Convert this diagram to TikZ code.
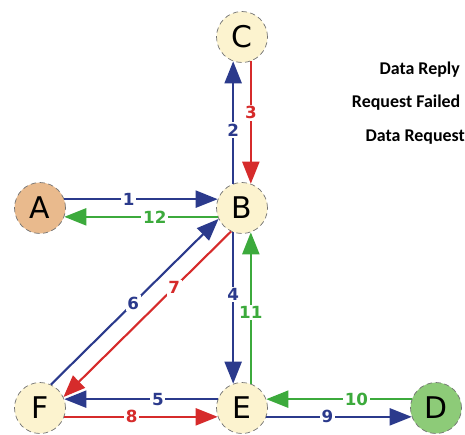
\documentclass[tikz,border=0pt]{standalone}
\usepackage{fontspec}
\setmainfont{DejaVu Sans}
\newfontfamily\legendfont{Carlito}
\usepackage{xcolor}
\usetikzlibrary{arrows.meta}
\definecolor{reqBlue}{HTML}{2B3A8C}
\definecolor{failRed}{HTML}{D62B2B}
\definecolor{replyGreen}{HTML}{3CAA3C}
\definecolor{nodeCream}{HTML}{FCF3CF}
\definecolor{srcTan}{HTML}{E9BA8D}
\definecolor{dstGreen}{HTML}{8DCB78}

\begin{document}
\begin{tikzpicture}[
    st/.style={circle, draw=gray!90!black, densely dashed, thin, fill=nodeCream, minimum size=1.02cm, inner sep=0pt, font=\fontsize{17}{20}\selectfont},
    msg/.style={-{Triangle[length=0.44cm,width=0.34cm]}, line width=1.2pt},
    lbl/.style={fill=white, inner sep=1pt, font=\fontsize{9.5}{10}\selectfont\bfseries},
    leg/.style={anchor=east, font=\legendfont\fontsize{10.2}{12}\selectfont\bfseries}
  ]
  \useasboundingbox (0,0) rectangle (9.3,8.68);

  \node[st]                 (C) at (4.84,7.94) {C};
  \node[st]                 (B) at (4.84,4.52) {B};
  \node[st, fill=srcTan]    (A) at (0.80,4.52) {A};
  \node[st]                 (F) at (0.80,0.52) {F};
  \node[st]                 (E) at (4.84,0.52) {E};
  \node[st, fill=dstGreen]  (D) at (8.72,0.52) {D};

  \node[leg] (reply)   at (9.32,7.28) {Data Reply};
  \node[leg] (failed)  at (9.33,6.62) {Request Failed};
  \node[leg] (request) at (9.42,5.94) {Data Request};

  % A <-> B
  \draw[msg, reqBlue]    (A.20)  -- node[lbl, pos=0.42] {1}  (B.160);
  \draw[msg, replyGreen] (B.200) -- node[lbl, pos=0.41] {12} (A.340);
  % B <-> C
  \draw[msg, reqBlue]    (B.110) -- node[lbl, pos=0.44] {2}  (C.250);
  \draw[msg, failRed]    (C.290) -- node[lbl, pos=0.42] {3}  (B.70);
  % B <-> E
  \draw[msg, reqBlue]    (B.250) -- node[lbl, pos=0.41] {4}  (E.110);
  \draw[msg, replyGreen] (E.70)  -- node[lbl, pos=0.47] {11} (B.290);
  % F <-> B
  \draw[msg, reqBlue]    (F.65)  -- node[lbl, pos=0.49] {6}  (B.205);
  \draw[msg, failRed]    (B.245) -- node[lbl, pos=0.34] {7}  (F.25);
  % F <-> E
  \draw[msg, reqBlue]    (E.160) -- node[lbl, pos=0.39] {5}  (F.20);
  \draw[msg, failRed]    (F.340) -- node[lbl, pos=0.44] {8}  (E.200);
  % E <-> D
  \draw[msg, replyGreen] (D.160) -- node[lbl, pos=0.38] {10} (E.20);
  \draw[msg, reqBlue]    (E.340) -- node[lbl, pos=0.42] {9}  (D.200);
\end{tikzpicture}
\end{document}
